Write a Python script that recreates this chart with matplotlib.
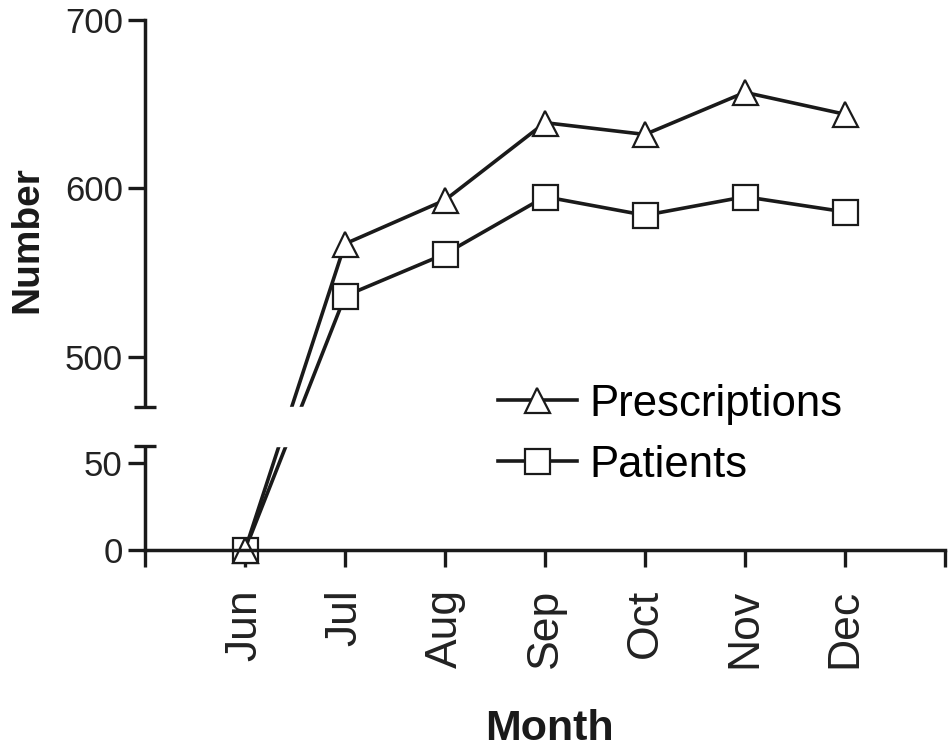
import numpy as np
import matplotlib.pyplot as plt

plt.rcParams["font.family"] = ["Liberation Sans", "DejaVu Sans"]

MONTHS = ["Jun", "Jul", "Aug", "Sep", "Oct", "Nov", "Dec"]
PRESCRIPTIONS = [0, 567, 593, 639, 632, 657, 644]
PATIENTS = [0, 536, 561, 595, 584, 595, 586]

# broken axis: 0-60 and 470-700 mapped onto one axis, gap in between
VALS = [-1000, 0, 60, 470, 700, 3000]
PIX = [-1740, 0, 104, 143, 530.5, 530.5 + 2300 * 1.685]


def fwd(v):
    return np.interp(v, VALS, PIX)


def inv(p):
    return np.interp(p, PIX, VALS)


fig = plt.figure(figsize=(9.5, 7.55), dpi=100)
ax = fig.add_axes([145 / 950, 1 - 550 / 755, 800 / 950, 530 / 755])
ax.set_yscale("function", functions=(fwd, inv))

x = np.arange(1, len(MONTHS) + 1)
lw = 2.6
ax.plot(x, PATIENTS, color="#1a1a1a", lw=lw, marker="s", ms=18,
        mfc="white", mec="#1a1a1a", mew=1.6, label="Patients", zorder=2,
        clip_on=False)
ax.plot(x, PRESCRIPTIONS, color="#1a1a1a", lw=lw, marker="^", ms=18,
        mfc="white", mec="#1a1a1a", mew=1.6, label="Prescriptions", zorder=2,
        clip_on=False)

ax.set_xlim(0, 8)
ax.set_ylim(0, 700)

# hide the gap
ax.axhspan(60, 470, xmin=-0.05, xmax=1.02, color="white", zorder=3,
           clip_on=False)
for yb in (60, 470):
    ax.plot([-0.11, 0.11], [yb, yb], color="#1a1a1a", lw=2.4,
            clip_on=False, zorder=4, solid_capstyle="butt")

for s in ("top", "right"):
    ax.spines[s].set_visible(False)
for s in ("left", "bottom"):
    ax.spines[s].set_linewidth(2.5)
    ax.spines[s].set_color("#1a1a1a")

ax.set_yticks([0, 50, 500, 600, 700])
ax.set_xticks(np.arange(0, 9))
ax.set_xticklabels([""] + MONTHS + [""], rotation=90)
ax.tick_params(axis="both", length=12, width=2.4, color="#1a1a1a",
               labelcolor="#222222")
ax.tick_params(axis="y", pad=4, labelsize=25)
ax.tick_params(axis="x", pad=16, labelsize=32)

ax.set_ylabel("Number", fontsize=28, fontweight="bold", color="#1a1a1a")
ax.yaxis.set_label_coords(-0.124, 0.585)
ax.set_xlabel("Month", fontsize=31, fontweight="bold", color="#1a1a1a")
ax.xaxis.set_label_coords(0.505, -0.30)

h, l = ax.get_legend_handles_labels()
leg = ax.legend(h[::-1], l[::-1], loc="upper left",
                bbox_to_anchor=(0.441, 0.314), frameon=False, fontsize=31.5,
                handlelength=1.8, handletextpad=0.3, labelspacing=0.46,
                borderpad=0, borderaxespad=0)
leg.set_zorder(6)

fig.savefig("out.png", dpi=100)
